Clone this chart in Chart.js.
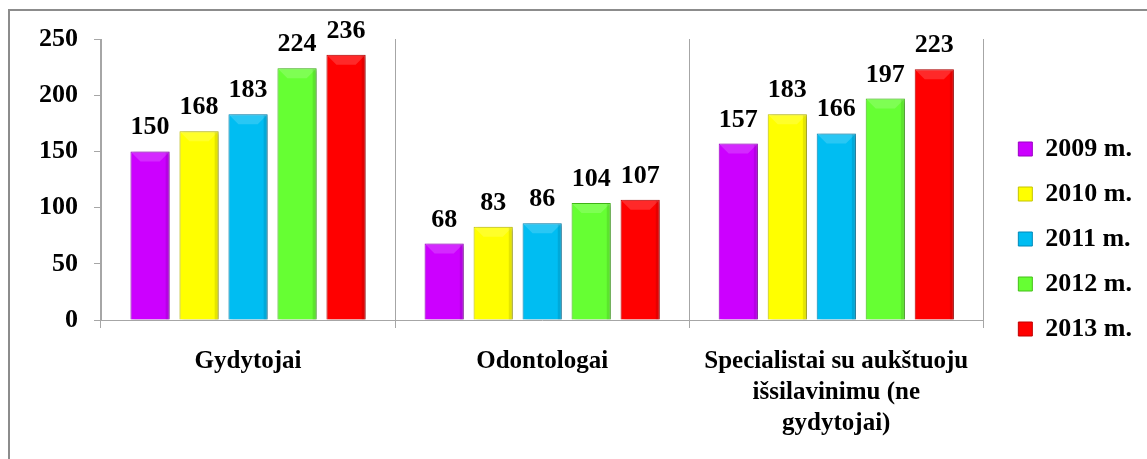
<!DOCTYPE html>
<html>

<head>
    <meta charset="utf-8" />
    <style>
        body { margin: 0; background: #fff; }
        .frame {
            position: absolute; left: 8px; top: 9px; width: 1200px; height: 500px;
            border-top: 2px solid #8c8c8c; border-left: 2px solid #8c8c8c;
        }
        #chart { position: absolute; left: 0; top: 0; }
    </style>
</head>

<body>

    <div class="frame"></div>
    <canvas id="chart" width="1147" height="459"></canvas>

    <script src="https://cdn.jsdelivr.net/npm/chart.js"></script>
    <script type="text/javascript">

        // Datos
        const categories = ['Gydytojai', 'Odontologai', ['Specialistai su aukštuoju', 'išsilavinimu (ne', 'gydytojai)']];
        const years = ['2009 m.', '2010 m.', '2011 m.', '2012 m.', '2013 m.'];
        const values2009 = [150, 68, 157];
        const values2010 = [168, 83, 183];
        const values2011 = [183, 86, 166];
        const values2012 = [224, 104, 197];
        const values2013 = [236, 107, 223];
        const yTicks = [0, 50, 100, 150, 200, 250];

        const fills = ['#cc00ff', '#ffff00', '#00bdf2', '#66ff33', '#ff0000'];
        const borders = ['#9a00c4', '#c4c400', '#0088b8', '#44c018', '#c00000'];
        const series = [values2009, values2010, values2011, values2012, values2013];

        Chart.defaults.font.family = '"Liberation Serif", "Times New Roman", serif';
        Chart.defaults.font.weight = 'bold';
        Chart.defaults.color = '#000';

        // sombra, brillo de las barras y etiquetas de valores
        const barExtras = {
            id: 'barExtras',
            beforeDatasetsDraw(chart) {
                const ctx = chart.ctx;
                ctx.save();
                ctx.shadowColor = 'rgba(0,0,0,0.3)';
                ctx.shadowBlur = 4;
                ctx.shadowOffsetX = 2;
                ctx.shadowOffsetY = 1;
            },
            afterDatasetsDraw(chart) {
                const ctx = chart.ctx;
                ctx.restore();
                ctx.save();
                chart.data.datasets.forEach((ds, i) => {
                    chart.getDatasetMeta(i).data.forEach(bar => {
                        const l = bar.x - bar.width / 2 + 1, r = bar.x + bar.width / 2 - 1;
                        ctx.fillStyle = 'rgba(255,255,255,0.16)';
                        ctx.beginPath();
                        ctx.moveTo(l, bar.y + 1);
                        ctx.lineTo(r, bar.y + 1);
                        ctx.lineTo(r - 9, bar.y + 10);
                        ctx.lineTo(l + 9, bar.y + 10);
                        ctx.closePath();
                        ctx.fill();
                        ctx.fillStyle = 'rgba(0,0,0,0.10)';
                        ctx.fillRect(r - 3, bar.y + 1, 3, bar.base - bar.y - 1);
                    });
                });
                ctx.font = 'bold 26px "Liberation Serif"';
                ctx.fillStyle = '#000';
                ctx.textAlign = 'center';
                ctx.textBaseline = 'alphabetic';
                chart.data.datasets.forEach((ds, i) => {
                    chart.getDatasetMeta(i).data.forEach((bar, j) => {
                        ctx.fillText(ds.data[j], bar.x, bar.y - 17);
                    });
                });
                ctx.restore();
            }
        };

        const ctx = document.getElementById('chart').getContext('2d');

        new Chart(ctx, {
            type: 'bar',
            data: {
                labels: categories,
                datasets: years.map((y, i) => ({
                    label: y,
                    data: series[i],
                    backgroundColor: fills[i],
                    borderColor: borders[i],
                    borderWidth: 1,
                    categoryPercentage: 0.833,
                    barPercentage: 0.8
                }))
            },
            options: {
                responsive: false,
                animation: false,
                layout: { padding: { top: 39, bottom: 20, left: 0, right: 5 } },
                plugins: {
                    tooltip: { enabled: false },
                    legend: {
                        position: 'right',
                        labels: {
                            boxWidth: 14,
                            boxHeight: 14,
                            padding: 19,
                            font: { size: 26 }
                        }
                    }
                },
                scales: {
                    x: {
                        grid: { offset: true, color: '#a6a6a6', tickLength: 8 },
                        border: { color: '#a6a6a6' },
                        ticks: { font: { size: 25, lineHeight: 1.24 }, padding: 18, maxRotation: 0 },
                        afterFit: s => { s.height = 119; }
                    },
                    y: {
                        min: 0,
                        max: 250,
                        afterBuildTicks: s => { s.ticks = yTicks.map(v => ({ value: v })); },
                        grid: { drawOnChartArea: false, color: '#a6a6a6', tickLength: 7 },
                        border: { color: '#a6a6a6' },
                        ticks: { font: { size: 26 }, padding: 16 },
                        afterFit: s => { s.width = 101; }
                    },
                    gap: {
                        position: 'right',
                        display: true,
                        grid: { display: false },
                        border: { display: false },
                        ticks: { display: false },
                        afterFit: s => { s.width = 16; }
                    }
                }
            },
            plugins: [barExtras]
        });

    </script>

</body>

</html>
